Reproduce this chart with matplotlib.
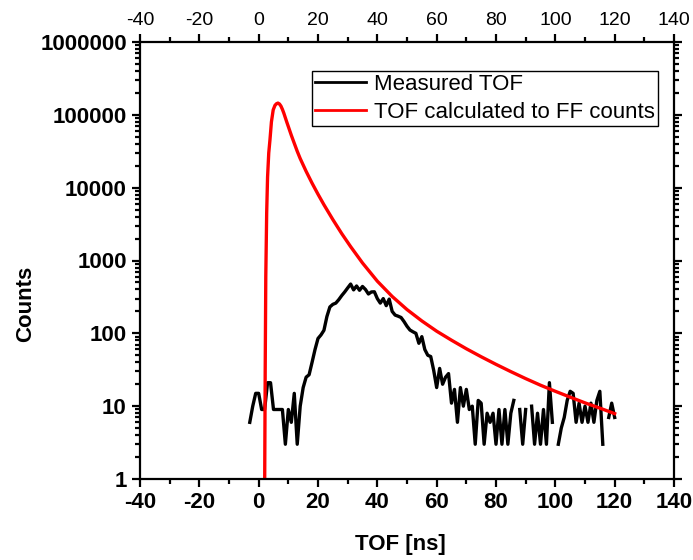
import matplotlib
matplotlib.use('Agg')
import matplotlib.pyplot as plt
import numpy as np
from matplotlib.ticker import MultipleLocator, LogLocator, NullFormatter

plt.rcParams['font.family'] = ['Liberation Sans', 'DejaVu Sans']
plt.rcParams['axes.unicode_minus'] = False

# Measured TOF (1 ns bins), 0 = no counts
tof_meas = np.arange(-3, 121)
counts_meas = [6, 10, 15, 15, 9, 9, 21, 21, 9, 9,          # -3 .. 6
               9, 9, 3, 9, 6, 15, 3, 10, 18, 25,           # 7 .. 16
               27, 40, 60, 85, 95, 110, 170, 230, 250, 260,  # 17 .. 26
               290, 330, 370, 420, 475, 395, 447, 390, 440, 400,  # 27 .. 36
               347, 370, 372, 300, 260, 300, 240, 295, 200, 178,  # 37 .. 46
               172, 165, 145, 125, 111, 105, 100, 73, 90, 60,     # 47 .. 56
               50, 48, 31, 18, 33, 20, 25, 28, 11, 17,            # 57 .. 66
               6, 18, 10, 17, 9, 10, 3, 12, 11, 3,                # 67 .. 76
               8, 6, 8, 3, 9, 3, 9, 3, 8, 12,                     # 77 .. 86
               0, 9, 3, 9, 0, 10, 3, 8, 3, 9,                     # 87 .. 96
               3, 21, 6, 0, 3, 5, 7, 12, 16, 15,                  # 97 .. 106
               6, 11, 6, 10, 6, 11, 6, 12, 16, 3,                 # 107 .. 116
               0, 7, 11, 7]                                       # 117 .. 120

# TOF calculated to FF counts
tof_calc = [2.0, 2.2, 2.4, 2.7, 3.0, 3.4, 3.8, 4.3, 4.9, 5.5, 6.0, 6.5,
            7.0, 7.5, 8.0, 8.5, 9.0, 9.5, 10, 11, 12, 13, 14, 15, 16, 18,
            20, 22, 25, 28, 31, 35, 40, 45, 50, 55, 60, 65, 70, 75, 80, 85,
            90, 95, 100, 105, 110, 115, 120]
counts_calc = [0.5, 30, 600, 4500, 14000, 30000, 45000, 80000, 117000, 135000,
               142000, 145000, 141000, 132000, 119000, 105000, 91000, 79000,
               69000, 52500, 40700, 31600, 25100, 20500, 16750, 11530, 8130,
               5830, 3650, 2340, 1550, 925, 520, 321, 212, 148, 107, 80.5,
               61.4, 47.7, 37.5, 29.8, 23.9, 19.4, 16.0, 13.3, 11.1, 9.4, 7.9]

meas = np.array(counts_meas, dtype=float)
meas[meas <= 0] = np.nan

fig = plt.figure(figsize=(6.93, 5.6), dpi=100)
ax = fig.add_axes([140/693, 1-479/560, 534/693, 437/560])

ax.plot(tof_meas, meas, color='black', lw=2.4, label='Measured TOF')
ax.plot(tof_calc, counts_calc, color='red', lw=2.4, label='TOF calculated to FF counts')

ax.set_yscale('log')
ax.set_xlim(-40, 140)
ax.set_ylim(1, 1e6)
ax.xaxis.set_major_locator(MultipleLocator(20))
ax.xaxis.set_minor_locator(MultipleLocator(10))
ax.yaxis.set_minor_locator(LogLocator(base=10, subs=np.arange(2, 10), numticks=20))
ax.yaxis.set_minor_formatter(NullFormatter())
ax.set_yticks([1, 10, 100, 1000, 10000, 100000, 1000000])
ax.set_yticklabels(['1', '10', '100', '1000', '10000', '100000', '1000000'])

for s in ax.spines.values():
    s.set_linewidth(1.6)

ax.tick_params(which='both', direction='out', width=1.6, top=True, right=True,
               labeltop=False, labelright=False)
ax.tick_params(which='major', length=6, labelsize=16)
ax.tick_params(which='minor', length=3.5)
for lab in ax.get_xticklabels() + ax.get_yticklabels():
    lab.set_fontweight('bold')

# top axis labels, narrow regular font
for t in ax.xaxis.get_major_ticks():
    t.label2.set_visible(True)
    t.label2.set_fontsize(14)
    t.label2.set_fontweight('normal')
    t.label2.set_family(['Liberation Sans Narrow', 'Liberation Sans'])

ax.set_xlabel('TOF [ns]', fontsize=16, fontweight='bold')
ax.set_ylabel('Counts', fontsize=16, fontweight='bold')
ax.xaxis.set_label_coords((400-140)/534, -0.125)
ax.yaxis.set_label_coords(-0.195, 0.40)

leg = ax.legend(loc='upper right', bbox_to_anchor=(0.97, 0.934), borderaxespad=0,
                fontsize=16, fancybox=False, edgecolor='black', framealpha=1,
                handlelength=2.3, handletextpad=0.35, labelspacing=0.3,
                borderpad=0.15)
leg.get_frame().set_linewidth(1.0)
for l in leg.get_lines():
    l.set_linewidth(2.0)

fig.savefig('out.png', dpi=100)
